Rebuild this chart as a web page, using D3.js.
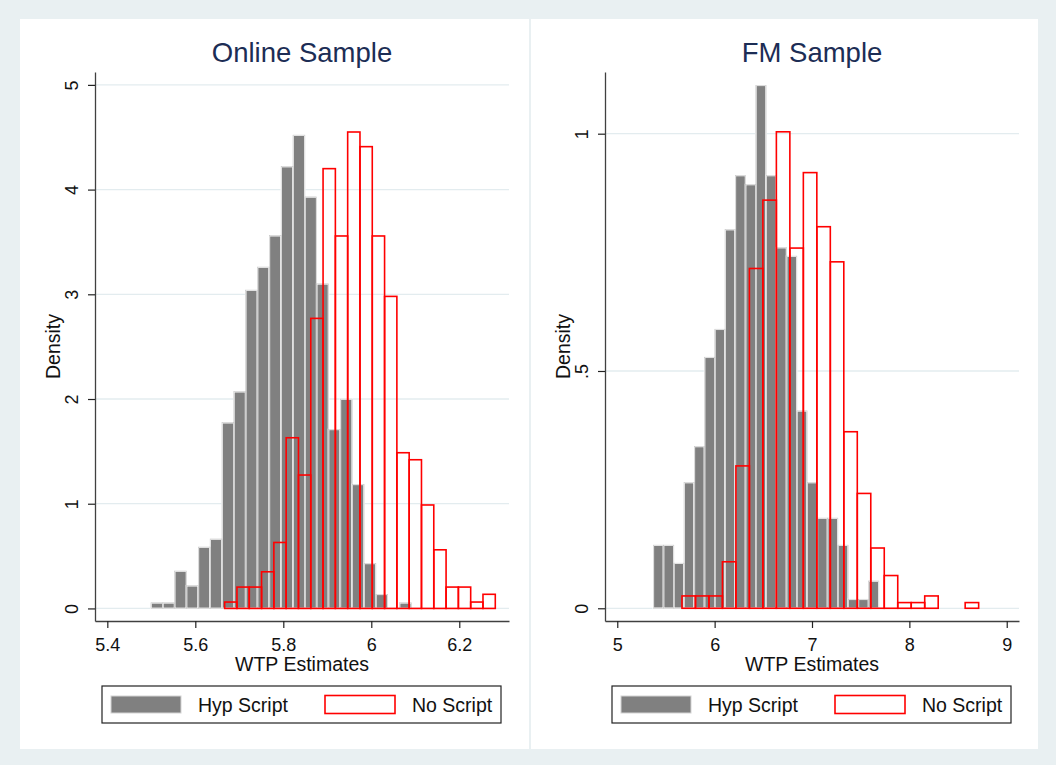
<!DOCTYPE html>
<html>
<head>
<meta charset="utf-8">
<script src="https://cdn.jsdelivr.net/npm/d3@7"></script>
<style>
  html, body { margin: 0; padding: 0; background: #e9f0f2; }
  svg { display: block; font-family: "Liberation Sans", Arial, sans-serif; }
</style>
</head>
<body>
<div id="chart"></div>
<script>
// Histogram densities (bin start, bin width in WTP units, heights)
const onlineHypStart = 5.4993;
const onlineHypWidth = 0.0269;
const onlineHyp = [0.054, 0.054, 0.357, 0.217, 0.586, 0.663, 1.774, 2.07, 3.04, 3.26, 3.56,
                   4.22, 4.52, 3.93, 3.10, 1.71, 2.00, 1.185, 0.43, 0.135, 0, 0.054];

const onlineNoStart = 5.6667;
const onlineNoWidth = 0.02796;
const onlineNo = [0.061, 0.204, 0.204, 0.35, 0.63, 1.63, 1.274, 2.77, 4.20, 3.557, 4.55,
                  4.41, 3.557, 2.98, 1.487, 1.42, 0.988, 0.56, 0.204, 0.204, 0.061, 0.135];

const fmHypStart = 5.370;
const fmHypWidth = 0.1053;
const fmHyp = [0.133, 0.133, 0.095, 0.265, 0.341, 0.529, 0.588, 0.798, 0.912, 0.893, 1.102,
               0.912, 0.760, 0.742, 0.416, 0.265, 0.190, 0.190, 0.133, 0.019, 0.019, 0.0575];

const fmNoStart = 5.6646;
const fmNoWidth = 0.1385;
const fmNo = [0.026, 0.026, 0.026, 0.098, 0.300, 0.716, 0.860, 1.004, 0.759, 0.918, 0.804,
              0.730, 0.372, 0.242, 0.127, 0.069, 0.012, 0.012, 0.026, 0, 0, 0.012];

// Axis ticks
const onlineXTicks = [5.4, 5.6, 5.8, 6.0, 6.2];
const onlineXLabels = ["5.4", "5.6", "5.8", "6", "6.2"];
const onlineYTicks = [0, 1, 2, 3, 4, 5];
const onlineYLabels = ["0", "1", "2", "3", "4", "5"];
const fmXTicks = [5, 6, 7, 8, 9];
const fmXLabels = ["5", "6", "7", "8", "9"];
const fmYTicks = [0, 0.5, 1];
const fmYLabels = ["0", ".5", "1"];

const titles = ["Online Sample", "FM Sample"];
const seriesNames = ["Hyp Script", "No Script"];

// Layout
const W = 1056, H = 765;
const plotW = 414, plotH = 549;
const grayFill = "#808080";
const red = "#ff0000";
const titleColor = "#1c2d55";

function bins(start, width, values) {
    return values.map((v, i) => ({ x0: start + i * width, x1: start + (i + 1) * width, d: v }));
}

const panels = [
    {
        title: titles[0],
        xDomain: [5.372, 6.313], yDomain: [-0.12, 5.123],
        xTicks: onlineXTicks, xLabels: onlineXLabels,
        yTicks: onlineYTicks, yLabels: onlineYLabels,
        hyp: bins(onlineHypStart, onlineHypWidth, onlineHyp),
        no: bins(onlineNoStart, onlineNoWidth, onlineNo),
        left: 95, panelX: 20, panelW: 509
    },
    {
        title: titles[1],
        xDomain: [4.874, 9.126], yDomain: [-0.0268, 1.130],
        xTicks: fmXTicks, xLabels: fmXLabels,
        yTicks: fmYTicks, yLabels: fmYLabels,
        hyp: bins(fmHypStart, fmHypWidth, fmHyp),
        no: bins(fmNoStart, fmNoWidth, fmNo),
        left: 605, panelX: 531, panelW: 507
    }
];

const svg = d3.select("#chart").append("svg")
    .attr("width", W)
    .attr("height", H);

svg.append("rect")
    .attr("width", W).attr("height", H)
    .attr("fill", "#e9f0f2");

panels.forEach(p => {
    // white panel background
    svg.append("rect")
        .attr("x", p.panelX).attr("y", 19)
        .attr("width", p.panelW).attr("height", 730)
        .attr("fill", "#ffffff");

    const g = svg.append("g")
        .attr("transform", `translate(${p.left},72)`);

    const x = d3.scaleLinear().domain(p.xDomain).range([0, plotW]);
    const y = d3.scaleLinear().domain(p.yDomain).range([plotH, 0]);

    // gridlines
    g.selectAll(".grid")
        .data(p.yTicks)
        .enter().append("line")
        .attr("class", "grid")
        .attr("x1", 0).attr("x2", plotW)
        .attr("y1", d => y(d)).attr("y2", d => y(d))
        .attr("stroke", "#e3ecef")
        .attr("stroke-width", 1.3);

    // Hyp Script bars (filled gray)
    const hyp = p.hyp.filter(b => b.d > 0);
    g.selectAll(".hyp")
        .data(hyp)
        .enter().append("rect")
        .attr("class", "hyp")
        .attr("x", b => x(b.x0))
        .attr("width", b => x(b.x1) - x(b.x0))
        .attr("y", b => y(b.d))
        .attr("height", b => y(0) - y(b.d))
        .attr("fill", grayFill)
        .attr("stroke", "#ffffff")
        .attr("stroke-width", 1.6);
    g.selectAll(".hypEdge")
        .data(hyp)
        .enter().append("rect")
        .attr("class", "hypEdge")
        .attr("x", b => x(b.x0))
        .attr("width", b => x(b.x1) - x(b.x0))
        .attr("y", b => y(b.d))
        .attr("height", b => y(0) - y(b.d))
        .attr("fill", "none")
        .attr("stroke", "#c4c4c4")
        .attr("stroke-width", 0.6);

    // No Script bars (red outline)
    g.selectAll(".no")
        .data(p.no.filter(b => b.d > 0))
        .enter().append("rect")
        .attr("class", "no")
        .attr("x", b => x(b.x0))
        .attr("width", b => x(b.x1) - x(b.x0))
        .attr("y", b => y(b.d))
        .attr("height", b => y(0) - y(b.d))
        .attr("fill", "none")
        .attr("stroke", red)
        .attr("stroke-width", 1.6);

    // X axis
    const xAxis = g.append("g")
        .attr("transform", `translate(0,${plotH})`)
        .call(d3.axisBottom(x)
            .tickValues(p.xTicks)
            .tickFormat((d, i) => p.xLabels[i])
            .tickSize(7)
            .tickSizeOuter(0)
            .tickPadding(6));
    xAxis.select(".domain").attr("stroke", "#404040").attr("stroke-width", 1.3);
    xAxis.selectAll(".tick line").attr("stroke", "#222").attr("stroke-width", 1.2);
    xAxis.selectAll(".tick text")
        .attr("dy", null)
        .attr("y", 30)
        .attr("fill", "#111")
        .style("font-size", "18px");

    // Y axis
    const yAxis = g.append("g")
        .call(d3.axisLeft(y)
            .tickValues(p.yTicks)
            .tickFormat((d, i) => p.yLabels[i])
            .tickSize(7)
            .tickSizeOuter(0));
    yAxis.select(".domain").attr("stroke", "#404040").attr("stroke-width", 1.3);
    yAxis.selectAll(".tick line").attr("stroke", "#222").attr("stroke-width", 1.2);
    yAxis.selectAll(".tick text")
        .attr("x", null).attr("dy", null)
        .attr("transform", "translate(-17,0) rotate(-90)")
        .attr("text-anchor", "middle")
        .attr("fill", "#111")
        .style("font-size", "18px");

    // axis titles
    g.append("text")
        .attr("x", plotW / 2)
        .attr("y", plotH + 50)
        .attr("text-anchor", "middle")
        .attr("fill", "#111")
        .style("font-size", "19.5px")
        .text("WTP Estimates");

    g.append("text")
        .attr("transform", `translate(-35,${plotH / 2}) rotate(-90)`)
        .attr("text-anchor", "middle")
        .attr("fill", "#111")
        .style("font-size", "19.5px")
        .text("Density");

    // panel title
    g.append("text")
        .attr("x", plotW / 2)
        .attr("y", -10)
        .attr("text-anchor", "middle")
        .attr("fill", titleColor)
        .style("font-size", "27.5px")
        .text(p.title);

    // legend
    const lg = g.append("g").attr("transform", `translate(7,614)`);
    lg.append("rect")
        .attr("width", 399).attr("height", 37)
        .attr("fill", "#ffffff")
        .attr("stroke", "#222")
        .attr("stroke-width", 1.2);
    lg.append("rect")
        .attr("x", 9).attr("y", 10)
        .attr("width", 70).attr("height", 17)
        .attr("fill", grayFill)
        .attr("stroke", "#d4d4d4")
        .attr("stroke-width", 1);
    lg.append("text")
        .attr("x", 96).attr("y", 26)
        .attr("fill", "#111")
        .style("font-size", "19.5px")
        .text(seriesNames[0]);
    lg.append("rect")
        .attr("x", 223).attr("y", 9.5)
        .attr("width", 70).attr("height", 18)
        .attr("fill", "#ffffff")
        .attr("stroke", red)
        .attr("stroke-width", 1.6);
    lg.append("text")
        .attr("x", 310).attr("y", 26)
        .attr("fill", "#111")
        .style("font-size", "19.5px")
        .text(seriesNames[1]);
});
</script>
</body>
</html>
